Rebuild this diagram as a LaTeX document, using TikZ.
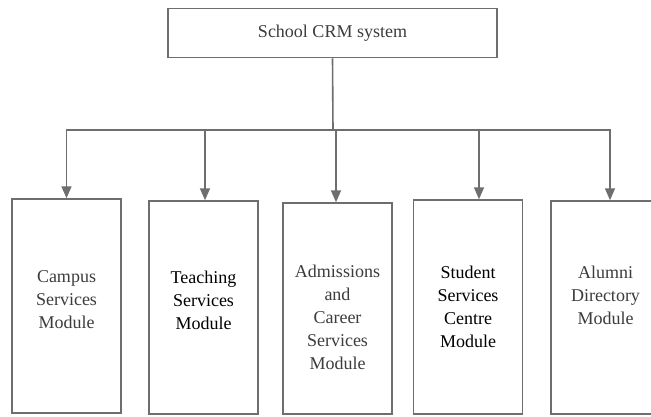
\documentclass[tikz,border=0pt]{standalone}
\usepackage{fontspec}
\setmainfont{Liberation Serif}
\usetikzlibrary{arrows.meta}

\definecolor{linegray}{RGB}{110,110,110}
\definecolor{textgray}{RGB}{60,60,60}

\tikzset{
  module/.style={draw=linegray, line width=1.5pt, inner sep=0pt, minimum width=109pt, minimum height=214pt},
  label text/.style={align=center, font=\fontsize{18}{23}\selectfont, text=textgray},
  conn/.style={draw=linegray, line width=1.6pt, -{Triangle[length=12pt,width=10pt]}}
}

\begin{document}
\begin{tikzpicture}[x=1pt, y=-1pt]
\clip (0,0) rectangle (651,416);
\fill[white] (0,0) rectangle (651,416);

\node[draw=linegray, line width=1.5pt, minimum width=329pt, minimum height=49pt] (crm) at (332.5,33) {};
\node[label text] (crmtext) at (crm.center) {School CRM system};

\node[module] (campus) at (66.5,306) {};
\node[module, minimum height=213pt] (teaching) at (203.5,307.5) {};
\node[module, minimum height=211pt] (admissions) at (337.5,308.5) {};
\node[module] (student) at (468,307) {};
\node[module, minimum height=213pt] (alumni) at (605.5,307.5) {};

\node[label text] (campustext) at (66.5,300) {Campus\\Services\\Module};
\node[label text, text=black] (teachingtext) at (203.5,300) {Teaching\\Services\\Module};
\node[label text] (admissionstext) at (337.5,317) {Admissions\\and\\Career\\Services\\Module};
\node[label text, text=black] (studenttext) at (468,307) {Student\\Services\\Centre\\Module};
\node[label text] (alumnitext) at (605.5,295) {Alumni\\Directory\\Module};

\coordinate (bus) at (333,130);
\draw[draw=linegray, line width=1.6pt] (crm.south) -- (bus);
\draw[conn] (bus) -| (campus.north);
\draw[conn] (bus) -| ([xshift=1.5pt]teaching.north);
\draw[conn] (bus) -| ([xshift=-1.5pt]admissions.north);
\draw[conn] (bus) -| ([xshift=11pt]student.north);
\draw[conn] (bus) -| ([xshift=4.5pt]alumni.north);
\end{tikzpicture}
\end{document}
